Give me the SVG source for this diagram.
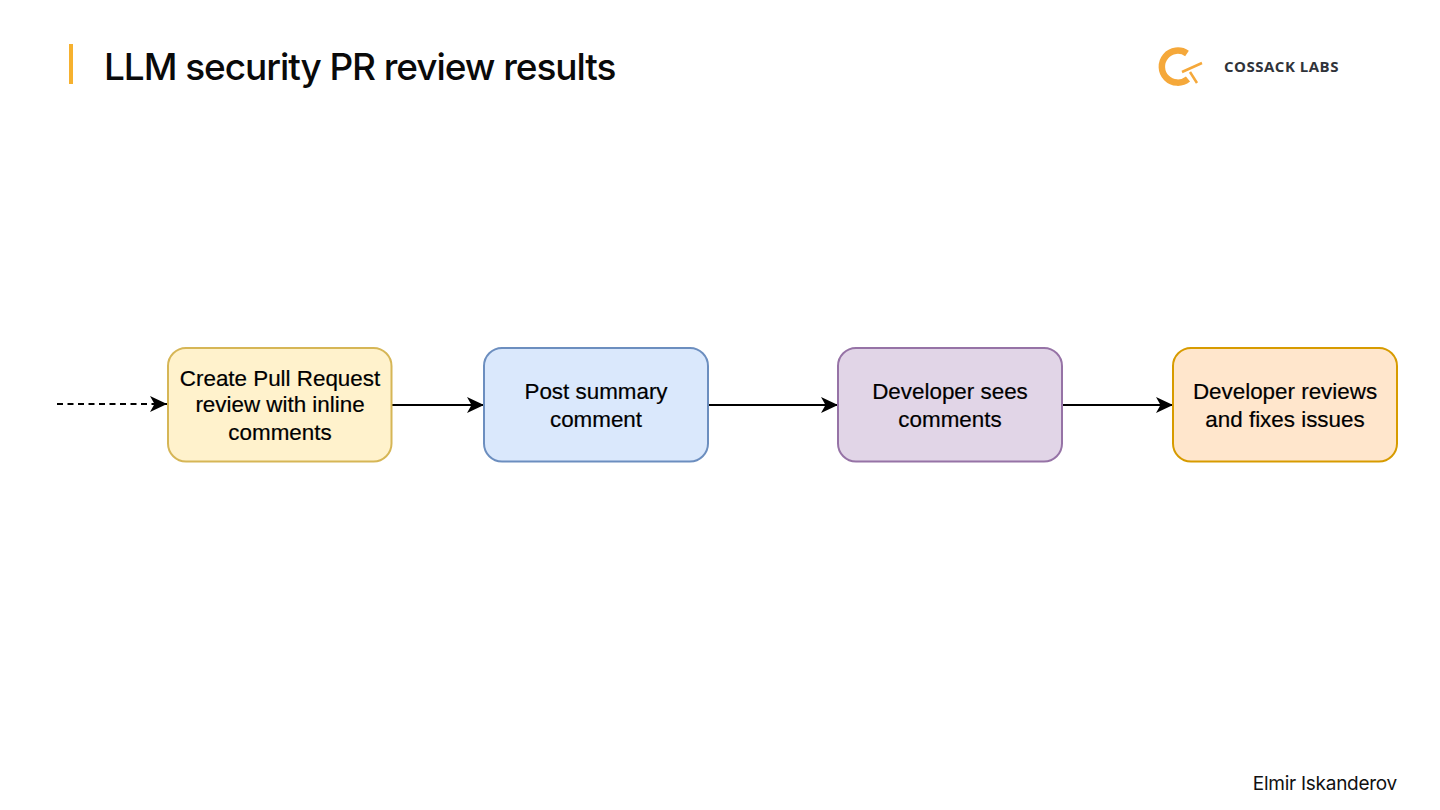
<svg xmlns="http://www.w3.org/2000/svg" width="1440" height="810" viewBox="0 0 1440 810">
<style>
.box{stroke-width:2}
.lbl{font-family:"Liberation Sans",Arial,sans-serif;font-size:22.4px;fill:#000;stroke:#000;stroke-width:.2;text-anchor:middle}
.conn{fill:none;stroke:#000;stroke-width:2}
.title{font-family:"Inter","Open Sans",sans-serif;font-weight:500;font-size:37px;fill:#0a0a0a;letter-spacing:-1.07px}
</style>
<defs><marker id="arr" markerUnits="userSpaceOnUse" markerWidth="18" markerHeight="16" refX="17" refY="8" orient="auto"><path d="M0 0L17 8L0 16L4.500 8Z" fill="#000"/></marker></defs>
<rect width="1440" height="810" fill="#fff"/>
<rect x="69" y="44" width="4" height="40" fill="#f6b12f"/>
<text class="title" x="104" y="80">LLM security PR review results</text>
<g id="logo">
<path d="M1187 53.500A16 16 0 1 0 1188 79" fill="none" stroke="#f5a83a" stroke-width="6.500"/>
<path d="M1182 72L1202 63M1190 72L1197 83" fill="none" stroke="#f5a83a" stroke-width="2.500"/>
<text x="1224" y="72" font-family="'Open Sans',sans-serif" font-weight="700" font-size="15" letter-spacing=".5" fill="#30333a">COSSACK LABS</text>
</g>
<g id="connectors">
<path class="conn" d="M57 404H167" stroke-dasharray="6 4.500" marker-end="url(#arr)"/>
<path class="conn" d="M392 405H484" marker-end="url(#arr)"/>
<path class="conn" d="M708 405H838" marker-end="url(#arr)"/>
<path class="conn" d="M1062 405H1173" marker-end="url(#arr)"/>
</g>
<g id="node1"><rect class="box" x="168" y="348" width="223.500" height="113.500" rx="18" fill="#fff2cc" stroke="#d6b656"/>
<text class="lbl" x="280" y="386">Create Pull Request</text><text class="lbl" x="280" y="412">review with inline</text><text class="lbl" x="280" y="440">comments</text></g>
<g id="node2"><rect class="box" x="484" y="348" width="224" height="113.500" rx="18" fill="#dae8fc" stroke="#6c8ebf"/>
<text class="lbl" x="596" y="399">Post summary</text><text class="lbl" x="596" y="427">comment</text></g>
<g id="node3"><rect class="box" x="838" y="348" width="224" height="113.500" rx="18" fill="#e1d5e7" stroke="#9673a6"/>
<text class="lbl" x="950" y="399">Developer sees</text><text class="lbl" x="950" y="427">comments</text></g>
<g id="node4"><rect class="box" x="1173" y="348" width="224" height="113.500" rx="18" fill="#ffe6cc" stroke="#d79b00"/>
<text class="lbl" x="1285" y="399">Developer reviews</text><text class="lbl" x="1285" y="427">and fixes issues</text></g>
<text x="1397" y="790" text-anchor="end" font-family="Inter,'Open Sans',sans-serif" font-size="19px" letter-spacing="-0.27" fill="#111">Elmir Iskanderov</text>
</svg>
